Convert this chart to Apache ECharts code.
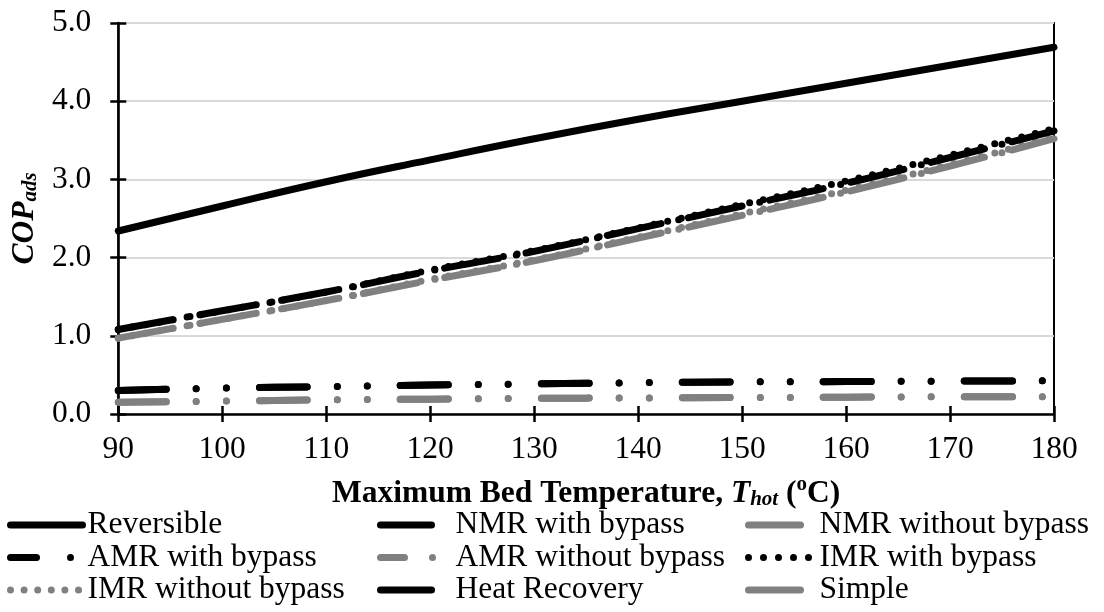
<!DOCTYPE html>
<html>
<head>
<meta charset="utf-8">
<script src="https://cdn.jsdelivr.net/npm/echarts@6/dist/echarts.min.js"></script>
<style>
html, body { margin: 0; padding: 0; background: #fff; }
#chart { width: 1104px; height: 612px; }
</style>
</head>
<body>
<div id="chart"></div>
<script>
// maximum bed temperature (°C)
const temps = [90, 100, 110, 120, 130, 140, 150, 160, 170, 180];

const reversible   = [2.34, 2.66, 2.97, 3.25, 3.52, 3.77, 4.00, 4.23, 4.46, 4.69];
const amrBypass    = [1.08, 1.32, 1.56, 1.83, 2.08, 2.37, 2.66, 2.95, 3.28, 3.62];
const amrNoBypass  = [0.97, 1.21, 1.45, 1.71, 1.96, 2.25, 2.54, 2.84, 3.17, 3.52];
const imrBypass    = [1.08, 1.32, 1.56, 1.84, 2.09, 2.38, 2.68, 2.98, 3.31, 3.65];
const imrNoBypass  = [0.97, 1.21, 1.45, 1.72, 1.97, 2.26, 2.56, 2.86, 3.19, 3.54];
const nmrBypass    = [0.30, 0.33, 0.35, 0.37, 0.385, 0.40, 0.41, 0.415, 0.42, 0.425];
const nmrNoBypass  = [0.15, 0.165, 0.18, 0.19, 0.20, 0.205, 0.21, 0.215, 0.22, 0.22];
const heatRecovery = [0.30, 0.33, 0.35, 0.37, 0.385, 0.40, 0.41, 0.415, 0.42, 0.425];
const simple       = [0.15, 0.165, 0.18, 0.19, 0.20, 0.205, 0.21, 0.215, 0.22, 0.22];

const FONT = 'Liberation Serif';
const FS = 31.5;
const BLACK = '#000000';
const GREY = '#808080';
const LW = 7;

function pairs(vals) {
    return temps.map((t, i) => [t, vals[i]]);
}

function line(name, vals, color, dash) {
    return {
        name: name,
        type: 'line',
        data: pairs(vals),
        symbol: 'none',
        smooth: true,
        silent: true,
        animation: false,
        itemStyle: { color: color },
        lineStyle: { color: color, width: LW, type: dash, cap: 'round', join: 'round' }
    };
}

const dashDotDot = [48, 30, 0, 30, 0, 33];
const dashDot = [55, 18, 0, 10];
const dots = [0, 14];

// one legend per cell so every column sits where it should
function legendItem(name, left, top, width, style) {
    return {
        left: left,
        top: top,
        padding: 0,
        itemWidth: width,
        itemHeight: 14,
        selectedMode: false,
        textStyle: { fontFamily: FONT, fontSize: FS, color: BLACK, lineHeight: 32 },
        data: [{
            name: name,
            itemStyle: { opacity: 0, borderWidth: 0 },
            lineStyle: Object.assign({ width: LW, cap: 'round', opacity: 1 }, style)
        }]
    };
}

const rowTop = [509, 541.5, 574];

const chart = echarts.init(document.getElementById('chart'));
chart.setOption({
    backgroundColor: '#fff',
    animation: false,
    grid: {
        left: 117, right: 50, top: 23, bottom: 198,
        show: true, borderColor: BLACK, borderWidth: 2, backgroundColor: 'transparent'
    },
    xAxis: [{
        type: 'value', min: 90, max: 180, interval: 10,
        name: '{b|Maximum Bed Temperature, }{i|T}{sub|hot}{b| (}{sup|o}{b|C)}',
        nameLocation: 'middle', nameGap: 60,
        nameTextStyle: {
            rich: {
                b: { fontFamily: FONT, fontSize: FS, fontWeight: 'bold', color: BLACK, lineHeight: 36, verticalAlign: 'bottom' },
                i: { fontFamily: FONT, fontSize: FS, fontWeight: 'bold', fontStyle: 'italic', color: BLACK, lineHeight: 36, verticalAlign: 'bottom' },
                sub: { fontFamily: FONT, fontSize: 21, fontWeight: 'bold', fontStyle: 'italic', color: BLACK, lineHeight: 36, verticalAlign: 'bottom', padding: [12, 0, 0, 0] },
                sup: { fontFamily: FONT, fontSize: 21, fontWeight: 'bold', color: BLACK, lineHeight: 36, verticalAlign: 'top' }
            }
        },
        axisLine: { lineStyle: { color: BLACK, width: 2.5 } },
        axisTick: { length: 8, lineStyle: { color: BLACK, width: 2.5 } },
        axisLabel: { fontFamily: FONT, fontSize: FS, color: BLACK, margin: 20 },
        splitLine: { show: false }
    }, {
        type: 'value', min: 90, max: 180, interval: 10, position: 'bottom',
        axisLine: { show: false },
        axisTick: { inside: true, length: 8, lineStyle: { color: BLACK, width: 2.5 } },
        axisLabel: { show: false },
        splitLine: { show: false }
    }],
    yAxis: [{
        type: 'value', min: 0, max: 5, interval: 1,
        name: '{i|COP}{sub|ads}',
        nameLocation: 'middle', nameGap: 69, nameRotate: 90,
        nameTextStyle: {
            rich: {
                i: { fontFamily: FONT, fontSize: FS, fontWeight: 'bold', fontStyle: 'italic', color: BLACK, lineHeight: 36, verticalAlign: 'bottom' },
                sub: { fontFamily: FONT, fontSize: 21, fontWeight: 'bold', fontStyle: 'italic', color: BLACK, lineHeight: 36, verticalAlign: 'bottom', padding: [12, 0, 0, 0] }
            }
        },
        axisLine: { show: true, lineStyle: { color: BLACK, width: 2.5 } },
        axisTick: { show: true, length: 8, lineStyle: { color: BLACK, width: 2.5 } },
        axisLabel: { fontFamily: FONT, fontSize: FS, color: BLACK, margin: 27, formatter: v => v.toFixed(1) },
        splitLine: { show: true, lineStyle: { color: '#d9d9d9', width: 2 } }
    }, {
        type: 'value', min: 0, max: 5, interval: 1, position: 'left',
        axisLine: { show: false },
        axisTick: { show: true, inside: true, length: 8, lineStyle: { color: BLACK, width: 2.5 } },
        axisLabel: { show: false },
        splitLine: { show: false }
    }],
    legend: [
        legendItem('Reversible', 7, rowTop[0], 72, { type: [72, 200] }),
        legendItem('AMR with bypass', 7, rowTop[1], 72, { type: [26, 34, 0, 100] }),
        legendItem('IMR without bypass', 7, rowTop[2], 72, { type: [0, 13.6] }),
        legendItem('NMR with bypass', 377, rowTop[0], 70, { type: [51, 200] }),
        legendItem('AMR without bypass', 377, rowTop[1], 70, { type: [24, 28, 0, 100] }),
        legendItem('Heat Recovery', 377, rowTop[2], 70, { type: [51, 200] }),
        legendItem('NMR without bypass', 745, rowTop[0], 66, { type: [52, 200] }),
        legendItem('IMR with bypass', 745, rowTop[1], 66, { type: [0, 15] }),
        legendItem('Simple', 745, rowTop[2], 66, { type: [52, 200] })
    ],
    series: [
        line('Reversible', reversible, BLACK, 'solid'),
        line('NMR without bypass', nmrNoBypass, GREY, dashDotDot),
        line('Simple', simple, GREY, dashDotDot),
        line('NMR with bypass', nmrBypass, BLACK, dashDotDot),
        line('Heat Recovery', heatRecovery, BLACK, dashDotDot),
        line('IMR without bypass', imrNoBypass, GREY, dots),
        line('AMR without bypass', amrNoBypass, GREY, dashDot),
        line('IMR with bypass', imrBypass, BLACK, dots),
        line('AMR with bypass', amrBypass, BLACK, dashDot)
    ]
});
</script>
</body>
</html>
